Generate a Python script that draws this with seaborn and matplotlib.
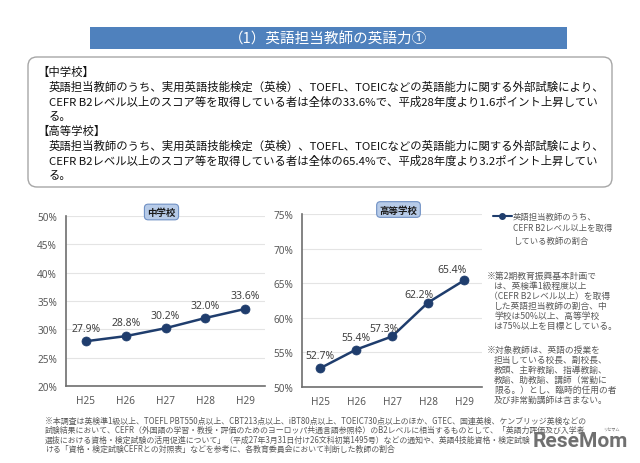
import matplotlib
matplotlib.use("Agg")
import matplotlib.pyplot as plt
import seaborn as sns
import pandas as pd
from matplotlib.patches import Rectangle, FancyBboxPatch
from matplotlib.lines import Line2D
from matplotlib.transforms import IdentityTransform
from matplotlib.ticker import FuncFormatter

# ---------------- data ----------------
years = ["H25", "H26", "H27", "H28", "H29"]
jhs_rate = [27.9, 28.8, 30.2, 32.0, 33.6]      # 中学校
hs_rate = [52.7, 55.4, 57.3, 62.2, 65.4]       # 高等学校
jhs_ticks = [20, 25, 30, 35, 40, 45, 50]
hs_ticks = [50, 55, 60, 65, 70, 75]

title_text = "（1）英語担当教師の英語力①"
box_lines = [
    ("【中学校】", 0),
    ("英語担当教師のうち、実用英語技能検定（英検）、TOEFL、TOEICなどの英語能力に関する外部試験により、", 1),
    ("CEFR B2レベル以上のスコア等を取得している者は全体の33.6%で、平成28年度より1.6ポイント上昇してい", 1),
    ("る。", 1),
    ("【高等学校】", 0),
    ("英語担当教師のうち、実用英語技能検定（英検）、TOEFL、TOEICなどの英語能力に関する外部試験により、", 1),
    ("CEFR B2レベル以上のスコア等を取得している者は全体の65.4%で、平成28年度より3.2ポイント上昇してい", 1),
    ("る。", 1),
]
legend_lines = ["英語担当教師のうち、", "CEFR B2レベル以上を取得", "している教師の割合"]
note1 = ["※第2期教育振興基本計画で", "は、英検準1級程度以上", "（CEFR B2レベル以上）を取得",
         "した英語担当教師の割合、中", "学校は50%以上、高等学校", "は75%以上を目標としている。"]
note2 = ["※対象教師は、英語の授業を", "担当している校長、副校長、", "教頭、主幹教諭、指導教諭、",
         "教諭、助教諭、講師（常勤に", "限る。）とし、臨時的任用の者", "及び非常勤講師は含まない。"]
footer = [
    "※本調査は英検準1級以上、TOEFL PBT550点以上、CBT213点以上、iBT80点以上、TOEIC730点以上のほか、GTEC、国連英検、ケンブリッジ英検などの",
    "試験結果において、CEFR（外国語の学習・教授・評価のためのヨーロッパ共通言語参照枠）のB2レベルに相当するものとして、「英語力評価及び入学者",
    "選抜における資格・検定試験の活用促進について」（平成27年3月31日付け26文科初第1495号）などの通知や、英語4技能資格・検定試験",
    "ける「資格・検定試験CEFRとの対照表」などを参考に、各教育委員会において判断した教師の割合",
]

# ---------------- style ----------------
sns.set_theme(style="white")
plt.rcParams["font.family"] = ["Noto Sans CJK JP", "DejaVu Sans"]

W, H = 640, 464
fig = plt.figure(figsize=(W / 100, H / 100), dpi=100)
fig.patch.set_facecolor("white")

def fx(x):
    return x / W

def fy(y):
    return 1 - y / H

navy = "#1f3d6d"
gray_txt = "#595959"

# title bar
fig.patches.append(Rectangle((fx(90), fy(50)), (567 - 90) / W, (50 - 28) / H,
                             transform=fig.transFigure, facecolor="#4f81bd", edgecolor="none"))
fig.text(fx(328), fy(39.5), title_text, color="white", fontsize=10.5, ha="center", va="center")

# rounded text box (pixel coordinates)
box = FancyBboxPatch((28, H - 188), 612 - 28, 188 - 58,
                     boxstyle="round,pad=0,rounding_size=9",
                     transform=IdentityTransform(), facecolor="white",
                     edgecolor="#a6a6a6", linewidth=1.0)
fig.patches.append(box)
y0 = 72
for i, (txt, indent) in enumerate(box_lines):
    fig.text(fx(37 if indent == 0 else 49), fy(y0 + i * 14.9), txt, fontsize=8.2,
             color="#111111", ha="left", va="center")

# ---------------- charts ----------------
def draw_chart(ax, values, ticks, label_dx, label_dy):
    df = pd.DataFrame({"year": years, "rate": values})
    sns.lineplot(data=df, x="year", y="rate", ax=ax, color=navy, marker="o",
                 markersize=6.5, markeredgecolor=navy, markeredgewidth=0.5, linewidth=1.8)
    ax.set_xlim(-0.5, len(years) - 0.5)
    ax.set_ylim(ticks[0], ticks[-1])
    ax.set_yticks(ticks)
    ax.yaxis.set_major_formatter(FuncFormatter(lambda v, p: f"{v:.0f}%"))
    ax.set_xlabel("")
    ax.set_ylabel("")
    ax.yaxis.grid(True, color="#e4e4e4", linewidth=0.8)
    ax.set_axisbelow(True)
    for s in ["top", "right"]:
        ax.spines[s].set_visible(False)
    for s in ["left", "bottom"]:
        ax.spines[s].set_color("#6e6e6e")
        ax.spines[s].set_linewidth(1.2)
    ax.tick_params(length=0, pad=6.5, labelsize=7.2, labelcolor=gray_txt)
    for lab in ax.get_xticklabels() + ax.get_yticklabels():
        lab.set_fontfamily(["Noto Sans", "DejaVu Sans"])
    for i, v in enumerate(values):
        ax.annotate(f"{v:.1f}%", (i, v), xytext=(label_dx[i], label_dy[i]),
                    textcoords="offset points", ha="center", va="center",
                    fontsize=7.5, color="#404040", family=["Noto Sans", "DejaVu Sans"])

ax1 = fig.add_axes([fx(66), fy(387), (265 - 66) / W, (387 - 217) / H])
draw_chart(ax1, jhs_rate, jhs_ticks, [0, 0, 0, 0, 0], [9, 9.5, 9, 9, 9.5])

ax2 = fig.add_axes([fx(302), fy(388), (482 - 302) / W, (388 - 215) / H])
draw_chart(ax2, hs_rate, hs_ticks, [0, 0, -6, -6.5, -8.5], [9, 9, 6, 6, 8])

# chart title boxes
def tag(x, y, text):
    fig.text(fx(x), fy(y), text, fontsize=6.8, fontweight="bold", color="#1a1a1a",
             ha="center", va="center",
             bbox=dict(boxstyle="round,pad=0.3,rounding_size=0.4", facecolor="#b7cbe8",
                       edgecolor="#6f90c4", linewidth=0.8))

tag(161.5, 213, "中学校")
tag(398.5, 210.5, "高等学校")

# legend
fig.lines.append(Line2D([fx(493), fx(512)], [fy(217), fy(217)], transform=fig.transFigure,
                        color=navy, linewidth=1.5))
fig.lines.append(Line2D([fx(502)], [fy(217)], transform=fig.transFigure, color=navy,
                        marker="o", markersize=4))
for i, t in enumerate(legend_lines):
    fig.text(fx(513), fy(217 + i * 12), t, fontsize=6.0, color=gray_txt, ha="left", va="center")

# notes
for i, t in enumerate(note1):
    x = 487 if i == 0 else (489 if t.startswith("（") else 494)
    fig.text(fx(x), fy(276 + i * 10.2), t, fontsize=6.3, color=gray_txt, ha="left", va="center")
for i, t in enumerate(note2):
    x = 487 if i == 0 else 494
    fig.text(fx(x), fy(350 + i * 10), t, fontsize=6.3, color=gray_txt, ha="left", va="center")

# footer
for i, t in enumerate(footer):
    fig.text(fx(45), fy(421 + i * 9.5), t, fontsize=5.7, color=gray_txt, ha="left", va="center")

# logo watermark
fig.text(fx(580), fy(442), "ReseMom", fontsize=15, fontweight="bold", color="#707070",
         family=["Roboto", "DejaVu Sans"], ha="center", va="center")
fig.text(fx(611), fy(430), "リセマム", fontsize=3, color="#707070", ha="center", va="center")

fig.savefig("out.png", dpi=100)
